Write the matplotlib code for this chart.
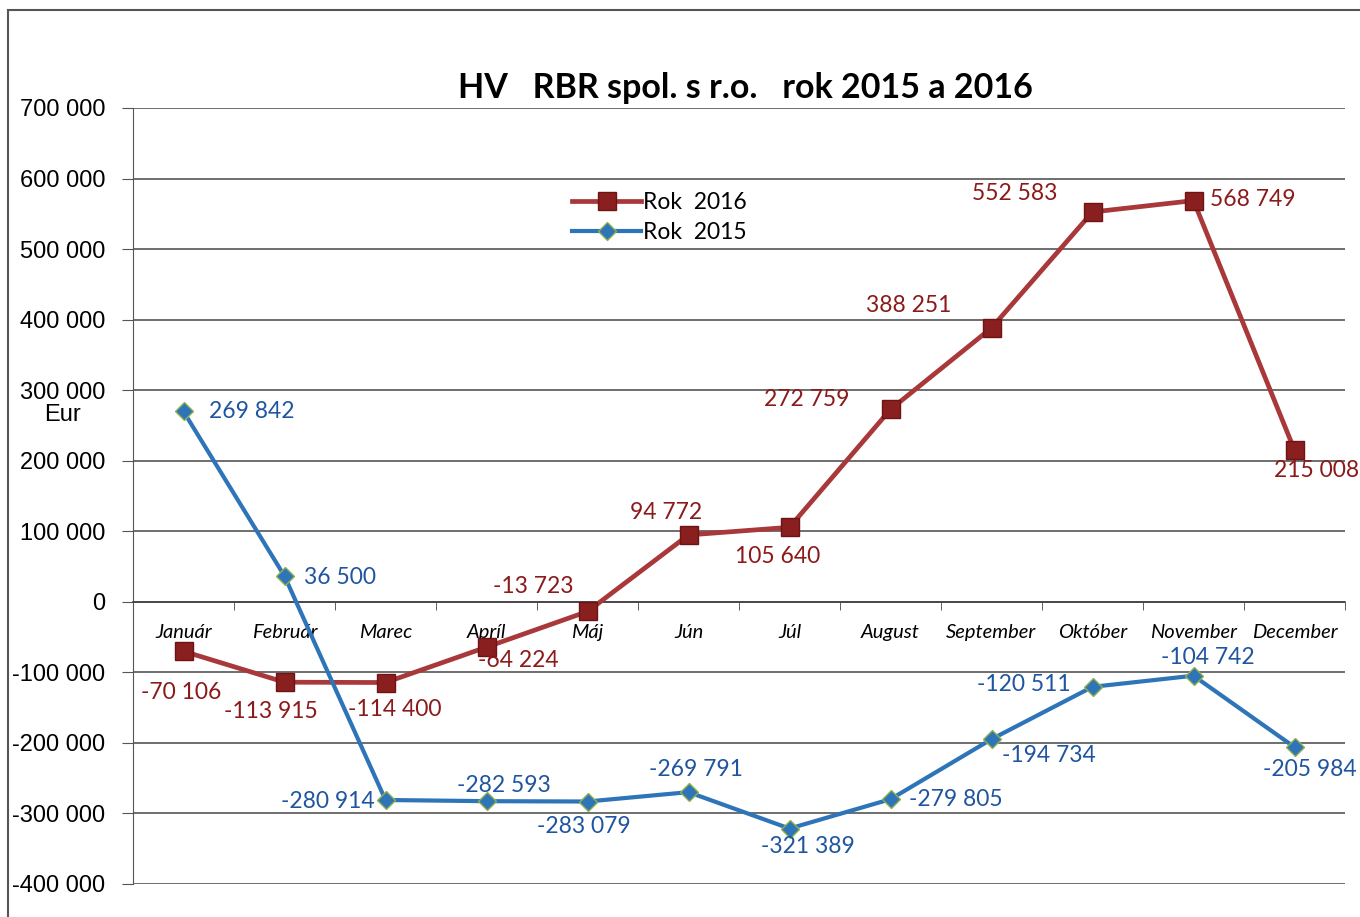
import matplotlib.pyplot as plt
from matplotlib.patches import Rectangle
from matplotlib.ticker import MultipleLocator, FuncFormatter

months = ["Január", "Február", "Marec", "Apríl", "Máj", "Jún", "Júl",
          "August", "September", "Október", "November", "December"]
rok_2016 = [-70106, -113915, -114400, -64224, -13723, 94772, 105640,
            272759, 388251, 552583, 568749, 215008]
rok_2015 = [269842, 36500, -280914, -282593, -283079, -269791, -321389,
            -279805, -194734, -120511, -104742, -205984]

# label offsets in pixels (dx, dy), tuned by eye
off_2016 = [(-2, -41), (-14, -29), (9, -27), (32, -13), (-54, 25), (-22, 22),
            (-12, -29), (-84, 10), (-83, 22), (-78, 18), (59, 1), (22, -20)]
off_2015 = [(68, 0), (56, -1), (-58, -2), (17, 16), (-4, -25), (7, 23),
            (18, -18), (65, 0), (57, -16), (-69, 2), (14, 18), (15, -22)]

RED = "#A8383A"
RED_MK = "#8A1F1F"
RED_TXT = "#8B1A1A"
BLUE = "#2E74B8"
BLUE_TXT = "#1F55A0"
FONT = "Lato"


def fmt(v):
    return f"{v:,}".replace(",", " ")


fig = plt.figure(figsize=(13.6, 9.17), dpi=100)
fig.patches.append(Rectangle((8 / 1360, -0.1), 1.2, 1 - 10 / 917 + 0.1,
                             transform=fig.transFigure, fill=False,
                             edgecolor="#555555", lw=1.5))

ax = fig.add_axes([133 / 1360, 1 - 884 / 917, 1212 / 1360, 776 / 917])
x = list(range(len(months)))

ax.plot(x, rok_2016, color=RED, lw=3.4, marker="s", markersize=13,
        markerfacecolor=RED_MK, markeredgecolor="#6E1414", label="Rok  2016", zorder=4)
ax.plot(x, rok_2015, color=BLUE, lw=3, marker="D", markersize=9,
        markerfacecolor=BLUE, markeredgecolor="#8FB04A", label="Rok  2015", zorder=4)

for i, v in enumerate(rok_2016):
    ax.annotate(fmt(v), (i, v), xytext=off_2016[i], textcoords="offset pixels",
                ha="center", va="center", fontsize=16.5, color=RED_TXT,
                family=FONT, zorder=5)
for i, v in enumerate(rok_2015):
    ax.annotate(fmt(v), (i, v), xytext=off_2015[i], textcoords="offset pixels",
                ha="center", va="center", fontsize=16.5, color=BLUE_TXT,
                family=FONT, zorder=5)

ax.set_xlim(-0.5, 11.5)
ax.set_ylim(-400000, 700000)
ax.yaxis.set_major_locator(MultipleLocator(100000))
ax.yaxis.set_major_formatter(FuncFormatter(lambda v, p: fmt(int(v))))
ax.grid(axis="y", color="#555555", lw=1.2)
ax.set_axisbelow(True)

for s in ["top", "right"]:
    ax.spines[s].set_visible(False)
ax.spines["left"].set_color("#555555")
ax.spines["bottom"].set_position(("data", 0))
ax.spines["bottom"].set_color("#444444")
ax.spines["bottom"].set_linewidth(1.2)

ax.set_xticks(x)
ax.set_xticklabels(months, fontsize=14.5, style="italic", family=FONT)
ax.set_xticks([i - 0.5 for i in range(1, 13)], minor=True)
ax.tick_params(axis="x", which="major", length=0, pad=16)
ax.tick_params(axis="x", which="minor", length=6, direction="out", color="#444444")
ax.tick_params(axis="y", length=8, color="#555555", pad=12)
for t in ax.get_yticklabels():
    t.set_fontsize(17)
    t.set_family("Liberation Sans")

fig.text(63 / 1360, 1 - 415 / 917, "Eur", ha="center", va="center",
         fontsize=17, family="Liberation Sans")
fig.text(745 / 1360, 1 - 88 / 917, "HV   RBR spol. s r.o.   rok 2015 a 2016",
         ha="center", va="center", fontsize=24.5, fontweight="bold", family=FONT)

ax.legend(loc="upper left", bbox_to_anchor=(430 / 1212, 1 - 75 / 776), frameon=False,
          prop={"family": FONT, "size": 16.5}, handlelength=3.0, handletextpad=0.1,
          labelspacing=0.4, borderaxespad=0)

fig.savefig("out.png", dpi=100)
